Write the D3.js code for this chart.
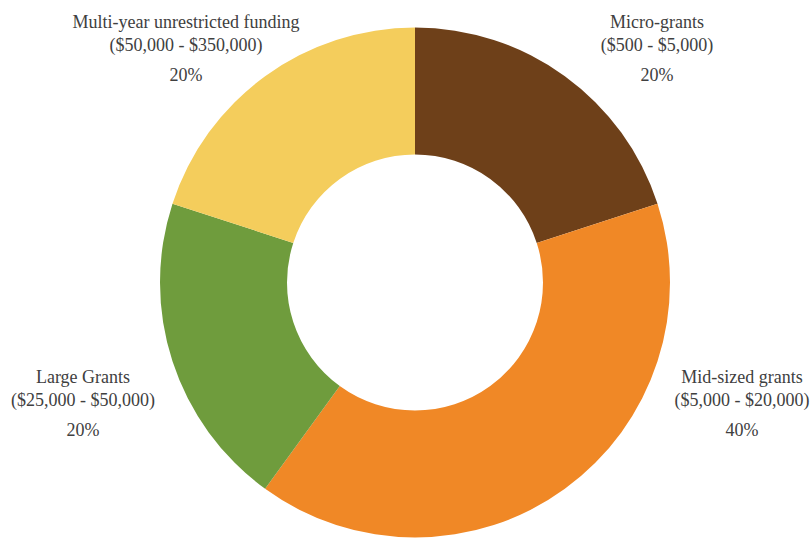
<!DOCTYPE html>
<html>
<head>
<meta charset="utf-8">
<script src="https://cdn.jsdelivr.net/npm/d3@7"></script>
<style>
  html, body { margin: 0; padding: 0; background: #fff; }
  svg { display: block; }
</style>
</head>
<body>
<svg id="chart" width="811" height="538"></svg>
<script>
// ---- data ----
const categories = ["Micro-grants", "Mid-sized grants", "Large Grants", "Multi-year unrestricted funding"];
const ranges = ["($500 - $5,000)", "($5,000 - $20,000)", "($25,000 - $50,000)", "($50,000 - $350,000)"];
const values = [20, 40, 20, 20];
const colors = ["#6E4019", "#F08826", "#6F9C3D", "#F4CD5C"];

// ---- layout ----
const W = 811, H = 538;
const cx = 415, cy = 282.5;
const outerR = 255, innerR = 128;
// label block centre offsets from chart centre (x, first-line baseline)
const labelOffsets = [[242, -255], [327, 100], [-332, 100], [-229, -255]];

const svg = d3.select("#chart");
const g = svg.append("g").attr("transform", `translate(${cx},${cy})`);

const pie = d3.pie().sort(null).value(d => d);
const arc = d3.arc().innerRadius(innerR).outerRadius(outerR);
const arcs = pie(values);

g.selectAll("path.slice")
  .data(arcs)
  .join("path")
  .attr("class", "slice")
  .attr("d", arc)
  .attr("fill", (d, i) => colors[i]);

const total = d3.sum(values);
const labels = g.selectAll("text.lbl")
  .data(arcs)
  .join("text")
  .attr("class", "lbl")
  .attr("text-anchor", "middle")
  .attr("font-family", "'Liberation Serif', 'Times New Roman', serif")
  .attr("font-size", 18)
  .attr("fill", "#404040")
  .attr("transform", (d, i) => `translate(${labelOffsets[i][0]},${labelOffsets[i][1]})`);

labels.append("tspan").attr("x", 0).attr("y", 0).text((d, i) => categories[i]);
labels.append("tspan").attr("x", 0).attr("y", 23).text((d, i) => ranges[i]);
labels.append("tspan").attr("x", 0).attr("y", 53).text(d => Math.round(d.value / total * 100) + "%");
</script>
</body>
</html>
